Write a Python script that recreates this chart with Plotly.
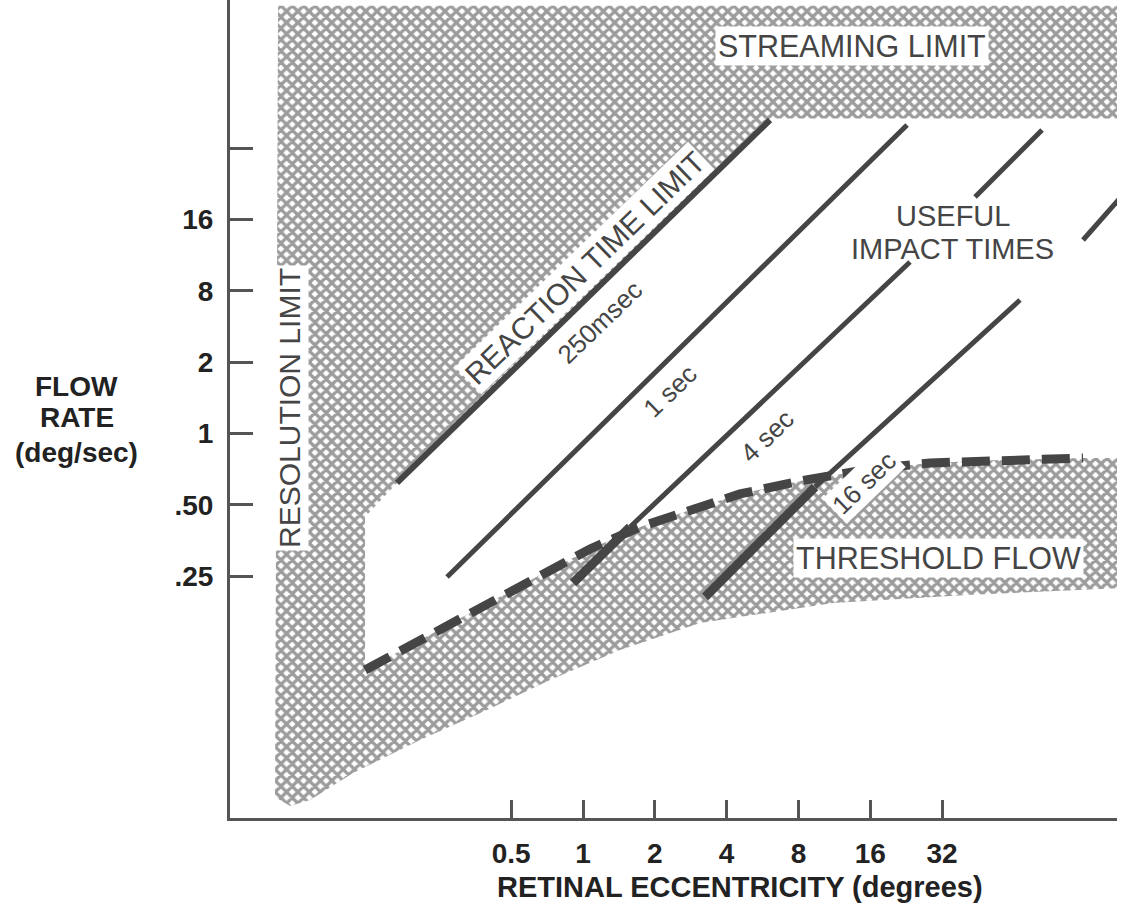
import plotly.graph_objects as go

# Both axes are in octave units (log2 steps); tick labels follow the original figure
x_tick_vals = [-1, 0, 1, 2, 3, 4, 5]
x_tick_text = ['0.5', '1', '2', '4', '8', '16', '32']
y_tick_vals = [-2, -1, 0, 1, 2, 3, 4]
y_tick_text = ['.25', '.50', '1', '2', '8', '16', '']
x_range = [-4.917, 7.437]
y_range = [-5.393, 6.08]

# Threshold flow curve (dashed)
threshold_x = [-3.036, -2.270, -1.435, -0.599, 0.097, 0.794, 1.490, 2.187, 3.022,
               3.997, 4.833, 5.808, 6.964]
threshold_y = [-3.317, -2.896, -2.433, -1.984, -1.620, -1.311, -1.073, -0.848, -0.666,
               -0.498, -0.414, -0.372, -0.344]

# Lower edge of the threshold band (from right edge back to the left)
lower_x = [7.5, 7.5, 5.348, 3.482, 1.630, 0.515, -0.460, -1.337, -2.270, -3.203, -3.802, -4.081, -4.290]
lower_y = [-0.344, -2.167, -2.265, -2.377, -2.658, -3.036, -3.457, -3.878, -4.299, -4.762, -5.140, -5.224, -5.098]

# Upper excluded region (streaming, resolution and reaction-time limits)
upper_x = [-4.248, 7.5, 7.5, 2.604, -2.618, -3.036]
upper_y = [6.0, 6.0, 4.418, 4.418, -0.722, -1.171]

# Impact-time lines
reaction_x = [-2.591, 2.604]
reaction_y = [-0.694, 4.397]
one_sec_x = [-1.894, 4.513]
one_sec_y = [-2.013, 4.327]
four_sec_thick_x = [-0.139, 0.655]
four_sec_thick_y = [-2.097, -1.311]
four_sec_x = [0.655, 4.554, None, 5.460, 6.393]
four_sec_y = [-1.311, 2.405, None, 3.317, 4.257]
sixteen_thick_x = [1.699, 3.231]
sixteen_thick_y = [-2.293, -0.750]
sixteen_x = [3.231, 6.086, None, 6.964, 7.493]
sixteen_y = [-0.750, 1.872, None, 2.714, 3.317]

# Labels: text, x, y, angle, size, boxed
labels = [
    ('STREAMING LIMIT', 3.746, 5.435, 0, 30.5, True),
    ('REACTION TIME LIMIT', 0.014, 2.321, -44, 30, True),
    ('250msec', 0.237, 1.564, -44, 26, False),
    ('1 sec', 1.212, 0.596, -44, 26, False),
    ('4 sec', 2.563, -0.035, -44, 26, False),
    ('16 sec', 3.914, -0.700, -44, 26, True),
    ('USEFUL', 5.153, 3.051, 0, 29, False),
    ('IMPACT TIMES', 5.139, 2.588, 0, 29, False),
    ('THRESHOLD FLOW', 4.944, -1.746, 0, 30.5, True),
    ('RESOLUTION LIMIT', -4.081, 0.358, -90, 30, True),
]

# Axis titles (paper coordinates)
y_title_lines = ['FLOW', 'RATE', '(deg/sec)']
y_title_pos = [0.528, 0.489, 0.447]
x_title = 'RETINAL ECCENTRICITY (degrees)'

ink = '#454545'
axis_ink = '#222222'
font_family = 'Liberation Sans, Arial, Helvetica, sans-serif'

hatch_x = upper_x + threshold_x + lower_x + [upper_x[0]]
hatch_y = upper_y + threshold_y + lower_y + [upper_y[0]]

fig = go.Figure()
fig.add_trace(go.Scatter(
    x=hatch_x, y=hatch_y, mode='lines', fill='toself',
    line=dict(width=0, color='rgba(0,0,0,0)'),
    fillcolor='white',
    fillpattern=dict(shape='x', fgcolor='#3a3a3a', bgcolor='white', size=8, solidity=0.65),
    hoverinfo='skip', showlegend=False))

def seg(xs, ys, w):
    fig.add_trace(go.Scatter(x=xs, y=ys, mode='lines',
                             line=dict(color=ink, width=w),
                             hoverinfo='skip', showlegend=False))

seg(reaction_x, reaction_y, 6)
seg(one_sec_x, one_sec_y, 5)
seg(four_sec_thick_x, four_sec_thick_y, 9)
seg(four_sec_x, four_sec_y, 5)
seg(sixteen_thick_x, sixteen_thick_y, 9)
seg(sixteen_x, sixteen_y, 5)

fig.add_trace(go.Scatter(x=threshold_x, y=threshold_y, mode='lines',
                         line=dict(color=ink, width=9, dash='28px,12px'),
                         hoverinfo='skip', showlegend=False))

annotations = []
for text, x, y, ang, size, boxed in labels:
    annotations.append(dict(
        text=text, x=x, y=y, xref='x', yref='y', showarrow=False,
        xanchor='center', yanchor='middle',
        textangle=ang, font=dict(family=font_family, size=size, color=ink),
        bgcolor='white' if boxed else 'rgba(0,0,0,0)', borderpad=2))

for text, yp in zip(y_title_lines, y_title_pos):
    annotations.append(dict(
        text='<b>' + text + '</b>', xref='paper', yref='paper',
        x=-0.1725, y=yp, xanchor='center', yanchor='middle', showarrow=False,
        font=dict(family=font_family, size=28, color=axis_ink)))
annotations.append(dict(
    text='<b>' + x_title + '</b>', xref='paper', yref='paper',
    x=0.575, y=-0.0844, xanchor='center', yanchor='middle', showarrow=False,
    font=dict(family=font_family, size=29, color=axis_ink)))

fig.update_layout(
    width=1121, height=916,
    margin=dict(l=230, r=4, t=0, b=98),
    paper_bgcolor='white', plot_bgcolor='white',
    annotations=annotations,
    xaxis=dict(range=x_range, tickvals=x_tick_vals, ticktext=x_tick_text,
               showgrid=False, zeroline=False, showline=True, linewidth=3,
               linecolor='#555555', ticks='inside', ticklen=18, tickwidth=3,
               tickcolor='#555555', ticklabelstandoff=8,
               tickfont=dict(family=font_family, size=28, color=axis_ink, weight='bold')),
    yaxis=dict(range=y_range, tickvals=y_tick_vals, ticktext=y_tick_text,
               showgrid=False, zeroline=False, showline=True, linewidth=3,
               linecolor='#555555', ticks='inside', ticklen=23, tickwidth=3,
               tickcolor='#555555', ticklabelstandoff=8,
               tickfont=dict(family=font_family, size=28, color=axis_ink, weight='bold')),
)

fig.write_html('out.html')
